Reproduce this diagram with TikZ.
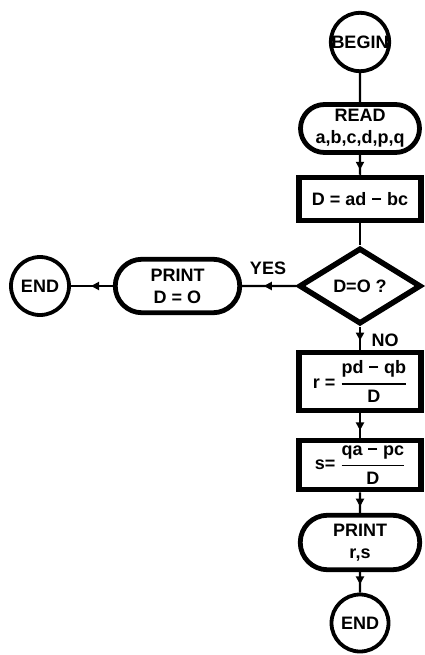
\documentclass[tikz,border=0pt]{standalone}
\usepackage{fontspec}
\setmainfont{Liberation Sans}
\usetikzlibrary{shapes.geometric,shapes.misc,arrows.meta,decorations.markings}
\begin{document}
\begin{tikzpicture}[x=1pt,y=-1pt,
  every node/.style={font=\fontsize{18}{22}\selectfont\bfseries, inner sep=0pt, align=center},
  circ/.style={circle, draw, line width=3.8pt, minimum size=58pt},
  term/.style={rounded rectangle, draw, line width=4.8pt},
  proc/.style={rectangle, draw, line width=5.5pt},
  dec/.style={diamond, draw, line width=5.5pt, minimum width=122pt, minimum height=76pt},
  conn/.style={line width=2.2pt},
  tipat/.style={postaction={decorate, decoration={markings, mark=at position #1 with {\arrow{Triangle[length=8pt,width=8pt]}}}}},
]
\useasboundingbox (0,0) rectangle (425,655);

\node[circ] (begin) at (360,42) {BEGIN};
\node[term, minimum width=119pt, minimum height=48pt] (read) at (360,128.5) {READ\\a,b,c,d,p,q};
\node[proc, minimum width=122pt, minimum height=43pt] (dd) at (360,199) {D = ad − bc};
\node[dec] (q) at (360,286) {D=O ?};
\node[proc, minimum width=122pt, minimum height=58pt] (r) at (360,381.5) {r = $\displaystyle{\hbox{pd − qb}\above 1.8pt\hbox{D}}$};
\node[proc, minimum width=122pt, minimum height=49pt] (s) at (360,465) {s= $\displaystyle{\hbox{qa − pc}\above 1.8pt\hbox{D}}$};
\node[term, minimum width=119.5pt, minimum height=54.5pt] (pr) at (360,542.5) {PRINT\\r,s};
\node[circ, minimum size=57pt] (end) at (360,623) {END};
\node[term, minimum width=124.5pt, minimum height=53.5pt] (pd) at (177.5,286) {PRINT\\D = O};
\node[circ] (end2) at (40,286) {END};

\node (yes) at (268,268) {YES};
\node (no) at (385,340) {NO};

\draw[conn] (begin) -- (read);
\draw[conn, tipat=0.75] (read) -- (dd);
\draw[conn] (dd) -- (q);
\draw[conn, tipat=0.6] (q) -- (r);
\draw[conn, tipat=0.7] (r) -- (s);
\draw[conn, tipat=0.7] (s) -- (pr);
\draw[conn, tipat=0.6] (pr) -- (end);
\draw[conn, tipat=0.6] (q) -- (pd);
\draw[conn, tipat=0.52] (pd) -- (end2);
\end{tikzpicture}
\end{document}
